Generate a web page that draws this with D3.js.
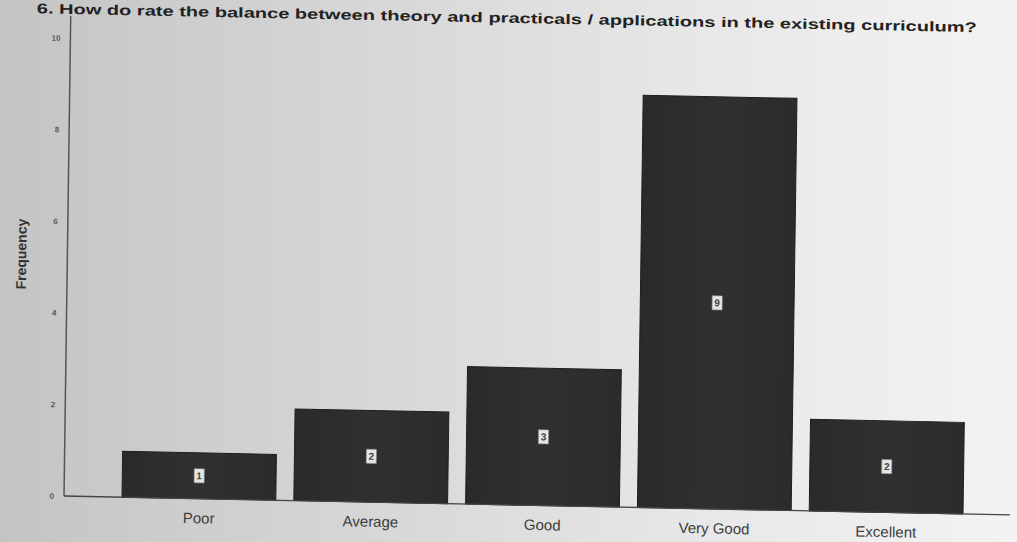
<!DOCTYPE html>
<html>
<head>
<meta charset="utf-8">
<script src="https://cdn.jsdelivr.net/npm/d3@7"></script>
<style>
html,body{margin:0;padding:0;overflow:hidden;background:#e0e0e0;}
svg{display:block;}
</style>
</head>
<body>
<svg id="chart" width="1017" height="542"></svg>
<script>
const categories = ["Poor", "Average", "Good", "Very Good", "Excellent"];
const frequencies = [1, 2, 3, 9, 2];
const yTicks = [0, 2, 4, 6, 8, 10];
const titleText = "6. How do rate the balance between theory and practicals / applications in the existing curriculum?";
const yLabel = "Frequency";

const W = 1017, H = 542;
const svg = d3.select("#chart");
const defs = svg.append("defs");

// photographed paper background
const bg = defs.append("linearGradient").attr("id", "bg").attr("x1", "0").attr("x2", "1").attr("y1", "0").attr("y2", "0");
bg.append("stop").attr("offset", "0").attr("stop-color", "#c4c4c4");
bg.append("stop").attr("offset", "0.35").attr("stop-color", "#d6d6d6");
bg.append("stop").attr("offset", "0.7").attr("stop-color", "#e8e8e8");
bg.append("stop").attr("offset", "1").attr("stop-color", "#f3f3f3");
svg.append("rect").attr("width", W).attr("height", H).attr("fill", "url(#bg)");

const barGrad = defs.append("linearGradient").attr("id", "barg").attr("x1", "0").attr("x2", "1").attr("y1", "0").attr("y2", "0");
barGrad.append("stop").attr("offset", "0").attr("stop-color", "#2a2a2a");
barGrad.append("stop").attr("offset", "0.5").attr("stop-color", "#303030");
barGrad.append("stop").attr("offset", "1").attr("stop-color", "#2b2b2b");

// slightly skewed frame (photo perspective)
const g = svg.append("g").attr("transform", "matrix(1,0.02,-0.014,1,64,496)");

const x = d3.scaleBand().domain(categories).range([58, 899]).paddingInner(0.105).paddingOuter(0);
const y = d3.scaleLinear().domain([0, 10]).range([0, -458]);

// bars
g.selectAll("rect.bar").data(categories).join("rect")
  .attr("class", "bar")
  .attr("x", d => x(d))
  .attr("y", (d, i) => y(frequencies[i]))
  .attr("width", x.bandwidth())
  .attr("height", (d, i) => y(0) - y(frequencies[i]))
  .attr("fill", "url(#barg)")
  .attr("stroke", "#1e1e1e")
  .attr("stroke-width", 1);

// value labels
const lab = g.selectAll("g.val").data(categories).join("g")
  .attr("class", "val")
  .attr("transform", (d, i) => `translate(${x(d) + x.bandwidth() / 2},${y(frequencies[i] / 2)})`);
lab.append("rect").attr("x", -5).attr("y", -7).attr("width", 10).attr("height", 14)
  .attr("fill", "#e6e6e6").attr("stroke", "#999").attr("stroke-width", 0.6);
lab.append("text").attr("text-anchor", "middle").attr("dy", "0.35em")
  .attr("font-family", "Liberation Sans, Arial, sans-serif").attr("font-size", 10).attr("font-weight", "bold")
  .attr("fill", "#444").text((d, i) => frequencies[i]);

// y axis
const yAxis = d3.axisLeft(y).tickValues(yTicks).tickSize(0).tickPadding(10);
const ya = g.append("g").call(yAxis);
ya.select(".domain").remove();
ya.selectAll("text").attr("font-family", "Liberation Sans, Arial, sans-serif").attr("font-size", 8)
  .attr("font-weight", "bold").attr("fill", "#5a5a5a");
g.append("line").attr("x1", 0).attr("x2", 0).attr("y1", 0).attr("y2", -480)
  .attr("stroke", "#555").attr("stroke-width", 1.5);

// x axis baseline
g.append("line").attr("x1", 0).attr("x2", 946).attr("y1", 0).attr("y2", 0)
  .attr("stroke", "#444").attr("stroke-width", 1.3);

// category labels
const xAxis = d3.axisBottom(x).tickSize(0).tickPadding(14);
const xa = g.append("g").call(xAxis);
xa.select(".domain").remove();
xa.selectAll("text").attr("font-family", "Liberation Sans, Arial, sans-serif").attr("font-size", 15)
  .attr("fill", "#3c3c3c");

// y label
g.append("text").attr("transform", "translate(-46,-241) rotate(-90)")
  .attr("text-anchor", "middle").attr("dy", "0.35em")
  .attr("font-family", "Liberation Sans, Arial, sans-serif").attr("font-size", 14).attr("font-weight", "bold")
  .attr("fill", "#333").text(yLabel);

// title
g.append("text").attr("x", -34).attr("y", -482)
  .attr("font-family", "Liberation Sans, Arial, sans-serif").attr("font-size", 14).attr("font-weight", "bold")
  .attr("fill", "#222").attr("textLength", 940).attr("lengthAdjust", "spacingAndGlyphs")
  .text(titleText);
</script>
</body>
</html>
